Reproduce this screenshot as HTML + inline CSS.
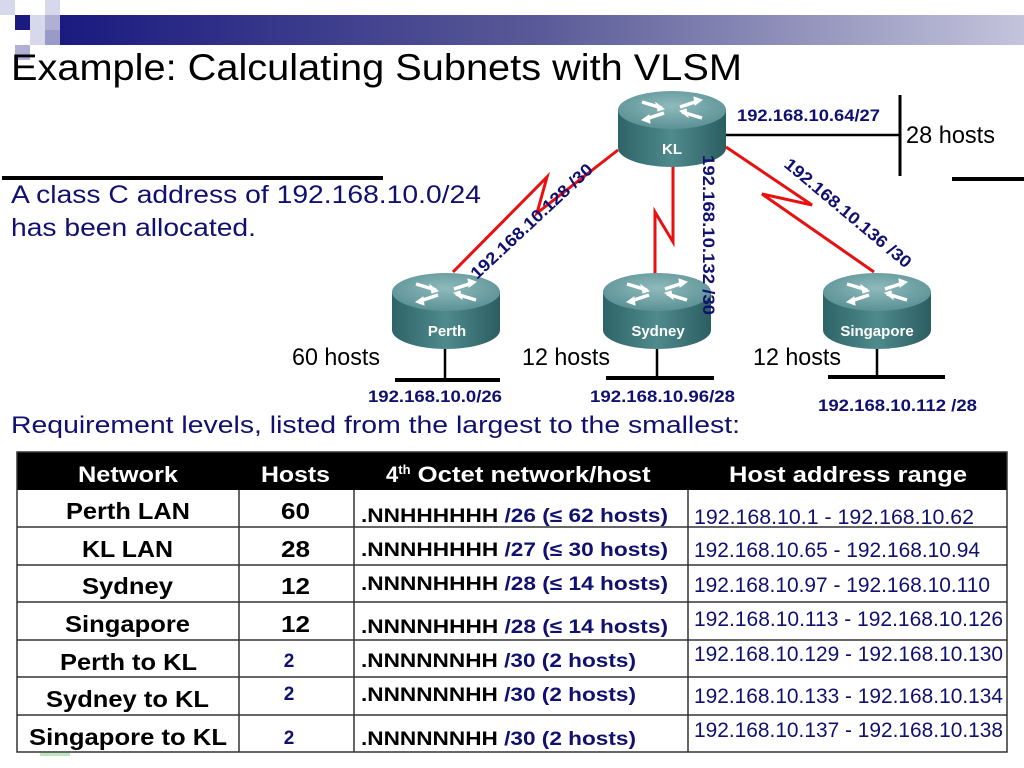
<!DOCTYPE html>
<html><head><meta charset="utf-8"><style>
html,body{margin:0;padding:0;background:#fff;}
svg{display:block;}
text{font-family:"Liberation Sans",Arial,sans-serif;}
</style></head><body>
<svg width="1024" height="768" viewBox="0 0 1024 768" xmlns="http://www.w3.org/2000/svg">
<defs>
<linearGradient id="bar" x1="0" x2="1" y1="0" y2="0">
<stop offset="0" stop-color="#1a1a80"/><stop offset="0.5" stop-color="#5a5a98"/><stop offset="1" stop-color="#c4c4dc"/>
</linearGradient>
<linearGradient id="body" x1="0" x2="1" y1="0" y2="0">
<stop offset="0" stop-color="#2e6467"/><stop offset="0.5" stop-color="#4f8a8d"/><stop offset="1" stop-color="#2b5e61"/>
</linearGradient>
<radialGradient id="top" cx="0.5" cy="0.4" r="0.6">
<stop offset="0" stop-color="#8fbabc"/><stop offset="1" stop-color="#5b9295"/>
</radialGradient>
<g id="router">
<path d="M-54,0 L-54,38 A54,19 0 0 0 54,38 L54,0 Z" fill="url(#body)"/>
<ellipse cx="0" cy="0" rx="54" ry="19" fill="url(#top)"/>
<g stroke="#fff" stroke-width="3.5" fill="#fff">
<line x1="-30" y1="-8" x2="-10" y2="-2"/><polygon points="-8,-1 -16,-7 -14,1" stroke-width="1"/>
<line x1="30" y1="8" x2="10" y2="2"/><polygon points="8,1 16,7 14,-1" stroke-width="1"/>
<line x1="8" y1="-3" x2="26" y2="-9"/><polygon points="30,-10 22,-13 23,-5" stroke-width="1"/>
<line x1="-8" y1="3" x2="-26" y2="9"/><polygon points="-30,10 -22,13 -23,5" stroke-width="1"/>
</g>
</g>
</defs>

<rect x="0" y="0" width="15" height="15" fill="#d8d8ec"/>
<rect x="45" y="0" width="15" height="15" fill="#d8d8ec"/>
<rect x="30" y="15" width="15" height="15" fill="#d8d8ec"/>
<rect x="60" y="15" width="964" height="30" fill="url(#bar)"/>
<rect x="45" y="15" width="15" height="15" fill="#b0b0d4"/>
<rect x="15" y="15" width="15" height="15" fill="#1a1a80"/>
<rect x="30" y="30" width="15" height="15" fill="#d8d8ec"/>
<rect x="45" y="30" width="15" height="15" fill="#9a9ac8"/>
<rect x="15" y="45" width="15" height="15" fill="#b0b0d4"/>
<text x="11" y="80" font-size="37" fill="#000" textLength="731" lengthAdjust="spacingAndGlyphs">Example: Calculating Subnets with VLSM</text>

<rect x="2" y="176" width="381" height="4" fill="#000"/>
<rect x="952" y="177" width="72" height="4" fill="#000"/>
<text x="11" y="203" font-size="25" fill="#101070" textLength="470" lengthAdjust="spacingAndGlyphs">A class C address of 192.168.10.0/24</text>
<text x="11" y="236" font-size="25" fill="#101070" textLength="245" lengthAdjust="spacingAndGlyphs">has been allocated.</text>

<g stroke="#e81010" stroke-width="3" fill="none" stroke-linejoin="miter">
<polyline points="618,150 537,213 547,177 453,272"/>
<polyline points="673,160 673,242 655,212 655,275"/>
<polyline points="726,147 812,205 762,194 874,272"/>
</g>
<g stroke="#000" fill="none">
<line x1="724" y1="135" x2="900" y2="135" stroke-width="2.5"/>
<line x1="900" y1="95" x2="900" y2="176" stroke-width="3"/>
<line x1="445" y1="345" x2="445" y2="380" stroke-width="2.5"/>
<line x1="395" y1="380" x2="500" y2="380" stroke-width="4"/>
<line x1="657" y1="345" x2="657" y2="378" stroke-width="2.5"/>
<line x1="606" y1="378" x2="714" y2="378" stroke-width="4"/>
<line x1="877" y1="345" x2="877" y2="378" stroke-width="2.5"/>
<line x1="828" y1="377" x2="945" y2="377" stroke-width="4"/>
</g>

<use href="#router" x="672" y="110"/>
<use href="#router" x="446" y="292"/>
<use href="#router" x="657" y="292"/>
<use href="#router" x="877" y="292"/>
<g font-weight="bold" font-size="15" fill="#fff" text-anchor="middle">
<text x="672" y="154">KL</text>
<text x="447" y="336">Perth</text>
<text x="658" y="336">Sydney</text>
<text x="877" y="336">Singapore</text>
</g>

<g font-weight="bold" font-size="17" fill="#101070">
<text x="737" y="121" textLength="143" lengthAdjust="spacingAndGlyphs">192.168.10.64/27</text>
<text x="368" y="402" textLength="134" lengthAdjust="spacingAndGlyphs">192.168.10.0/26</text>
<text x="590" y="402" textLength="145" lengthAdjust="spacingAndGlyphs">192.168.10.96/28</text>
<text x="818" y="411" textLength="159" lengthAdjust="spacingAndGlyphs">192.168.10.112 /28</text>
<text transform="translate(477,280) rotate(-43)" textLength="160" lengthAdjust="spacingAndGlyphs">192.168.10.128 /30</text>
<text transform="translate(703,155) rotate(90)" textLength="160" lengthAdjust="spacingAndGlyphs">192.168.10.132 /30</text>
<text transform="translate(783,166) rotate(40)" textLength="160" lengthAdjust="spacingAndGlyphs">192.168.10.136 /30</text>
</g>
<g font-size="24" fill="#000">
<text x="906" y="143" textLength="89" lengthAdjust="spacingAndGlyphs">28 hosts</text>
<text x="292" y="365" textLength="88" lengthAdjust="spacingAndGlyphs">60 hosts</text>
<text x="522" y="365" textLength="88" lengthAdjust="spacingAndGlyphs">12 hosts</text>
<text x="753" y="365" textLength="88" lengthAdjust="spacingAndGlyphs">12 hosts</text>
</g>
<text x="11" y="433" font-size="24" fill="#101070" textLength="729" lengthAdjust="spacingAndGlyphs">Requirement levels, listed from the largest to the smallest:</text>

<rect x="17" y="452" width="990" height="38" fill="#000"/>
<g stroke="#333" stroke-width="1.5" fill="none">
<rect x="17" y="452" width="990" height="300"/>
<line x1="17" y1="527" x2="1007" y2="527"/>
<line x1="17" y1="565" x2="1007" y2="565"/>
<line x1="17" y1="602" x2="1007" y2="602"/>
<line x1="17" y1="640" x2="1007" y2="640"/>
<line x1="17" y1="677" x2="1007" y2="677"/>
<line x1="17" y1="715" x2="1007" y2="715"/>
<line x1="239" y1="490" x2="239" y2="752"/>
<line x1="354" y1="490" x2="354" y2="752"/>
<line x1="688" y1="490" x2="688" y2="752"/>
</g>
<g font-weight="bold" font-size="22" fill="#fff">
<text x="78" y="482" textLength="100" lengthAdjust="spacingAndGlyphs">Network</text>
<text x="261" y="482" textLength="69" lengthAdjust="spacingAndGlyphs">Hosts</text>
<text x="386" y="482">4<tspan font-size="13" dy="-8">th</tspan><tspan dy="8" textLength="240" lengthAdjust="spacingAndGlyphs"> Octet network/host</tspan></text>
<text x="729" y="482" textLength="238" lengthAdjust="spacingAndGlyphs">Host address range</text>
</g>
<g font-weight="bold" font-size="23" fill="#000">
<text x="66" y="519" textLength="124" lengthAdjust="spacingAndGlyphs">Perth LAN</text><text x="281" y="519" textLength="29" lengthAdjust="spacingAndGlyphs">60</text>
<text x="82" y="557" textLength="91" lengthAdjust="spacingAndGlyphs">KL LAN</text><text x="281" y="557" textLength="29" lengthAdjust="spacingAndGlyphs">28</text>
<text x="82" y="594" textLength="91" lengthAdjust="spacingAndGlyphs">Sydney</text><text x="281" y="594" textLength="29" lengthAdjust="spacingAndGlyphs">12</text>
<text x="65" y="632" textLength="125" lengthAdjust="spacingAndGlyphs">Singapore</text><text x="281" y="632" textLength="29" lengthAdjust="spacingAndGlyphs">12</text>
<text x="60" y="670" textLength="137" lengthAdjust="spacingAndGlyphs">Perth to KL</text>
<text x="46" y="707" textLength="163" lengthAdjust="spacingAndGlyphs">Sydney to KL</text>
<text x="29" y="745" textLength="198" lengthAdjust="spacingAndGlyphs">Singapore to KL</text>
</g>
<g font-weight="bold" font-size="19" fill="#101070" text-anchor="middle">
<text x="289" y="667">2</text><text x="289" y="700">2</text><text x="289" y="744">2</text>
</g>
<g font-weight="bold" font-size="19" fill="#000">
<text x="361" y="522" textLength="307" lengthAdjust="spacingAndGlyphs">.NNHHHHHH <tspan fill="#101070">/26 (≤ 62 hosts)</tspan></text>
<text x="361" y="556" textLength="307" lengthAdjust="spacingAndGlyphs">.NNNHHHHH <tspan fill="#101070">/27 (≤ 30 hosts)</tspan></text>
<text x="361" y="590" textLength="307" lengthAdjust="spacingAndGlyphs">.NNNNHHHH <tspan fill="#101070">/28 (≤ 14 hosts)</tspan></text>
<text x="361" y="633" textLength="307" lengthAdjust="spacingAndGlyphs">.NNNNHHHH <tspan fill="#101070">/28 (≤ 14 hosts)</tspan></text>
<text x="361" y="667" textLength="275" lengthAdjust="spacingAndGlyphs">.NNNNNNHH <tspan fill="#101070">/30 (2 hosts)</tspan></text>
<text x="361" y="701" textLength="275" lengthAdjust="spacingAndGlyphs">.NNNNNNHH <tspan fill="#101070">/30 (2 hosts)</tspan></text>
<text x="361" y="745" textLength="275" lengthAdjust="spacingAndGlyphs">.NNNNNNHH <tspan fill="#101070">/30 (2 hosts)</tspan></text>
</g>
<g font-size="21" fill="#101070">
<text x="694" y="524" textLength="280" lengthAdjust="spacingAndGlyphs">192.168.10.1  - 192.168.10.62</text>
<text x="694" y="557" textLength="286" lengthAdjust="spacingAndGlyphs">192.168.10.65 - 192.168.10.94</text>
<text x="694" y="592" textLength="296" lengthAdjust="spacingAndGlyphs">192.168.10.97 - 192.168.10.110</text>
<text x="694" y="626" textLength="309" lengthAdjust="spacingAndGlyphs">192.168.10.113 - 192.168.10.126</text>
<text x="694" y="661" textLength="309" lengthAdjust="spacingAndGlyphs">192.168.10.129 - 192.168.10.130</text>
<text x="694" y="703" textLength="309" lengthAdjust="spacingAndGlyphs">192.168.10.133 - 192.168.10.134</text>
<text x="694" y="737" textLength="309" lengthAdjust="spacingAndGlyphs">192.168.10.137 - 192.168.10.138</text>
</g>
<rect x="40" y="753" width="30" height="3" fill="#bde6bd"/>
</svg>
</body></html>
